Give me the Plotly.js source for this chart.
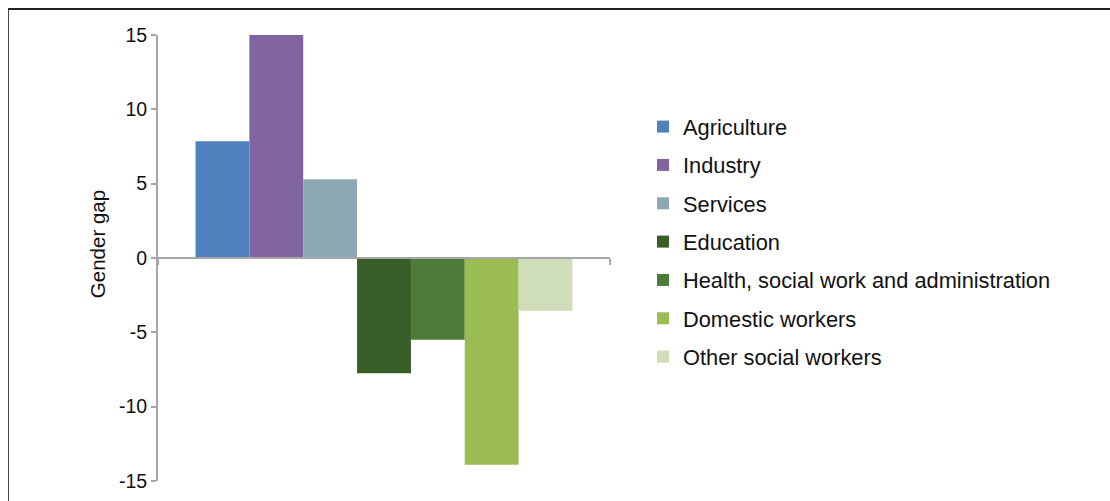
<!DOCTYPE html>
<html>
<head>
<meta charset="utf-8">
<script src="https://cdn.plot.ly/plotly-3.0.1.min.js"></script>
<style>
  html, body { margin: 0; padding: 0; background: #fff; }
  #wrap { position: relative; width: 1110px; height: 501px; overflow: hidden; }
  #frame { position: absolute; left: 8px; top: 8px; width: 1200px; height: 600px;
           border-top: 2px solid #222; border-left: 1px solid #444; pointer-events: none; }
  #chart { position: absolute; left: 0; top: 0; width: 1110px; height: 501px; }
</style>
</head>
<body>
<div id="wrap">
  <div id="chart"></div>
  <div id="frame"></div>
</div>
<script>
const seriesNames = ["Agriculture", "Industry", "Services", "Education",
  "Health, social work and administration", "Domestic workers", "Other social workers"];
const gapValues = [7.85, 15.0, 5.3, -7.75, -5.5, -13.9, -3.55];
const seriesColors = ["#4F81BD", "#8064A2", "#8CA8B3", "#385D27", "#4F7B3A", "#9BBB53", "#CFDDB8"];
const yTicks = [-15, -10, -5, 0, 5, 10, 15];
const yTitle = "Gender gap";
const category = [0];

const traces = seriesNames.map((name, i) => ({
  type: "bar",
  name: name,
  x: category,
  y: [gapValues[i]],
  marker: { color: seriesColors[i], line: { width: 0 } },
  legendgroup: "g" + i,
  hoverinfo: "name+y"
}));

const layout = {
  width: 1110, height: 501,
  margin: { l: 158, r: 500, t: 35, b: 20 },
  paper_bgcolor: "rgba(0,0,0,0)",
  plot_bgcolor: "rgba(0,0,0,0)",
  font: { family: "Liberation Sans, Arial, sans-serif", color: "#111", size: 19.5 },
  barmode: "group",
  bargap: 0.166,
  bargroupgap: 0,
  showlegend: true,
  legend: {
    x: 1.073, xanchor: "left", y: 0.841, yanchor: "top",
    font: { size: 21.8, color: "#111" },
    tracegroupgap: 7,
    itemwidth: 30,
    bgcolor: "rgba(0,0,0,0)"
  },
  xaxis: {
    range: [-0.5, 0.5],
    anchor: "free", position: 0.5,
    showline: true, linecolor: "#A6A6A6", linewidth: 2,
    tickmode: "array", tickvals: [-0.5, 0.5], ticks: "outside", ticklen: 6,
    tickcolor: "#A6A6A6", tickwidth: 2,
    showticklabels: false, showgrid: false, zeroline: false
  },
  yaxis: {
    range: [-15, 15],
    tickmode: "array", tickvals: yTicks, ticktext: yTicks.map(String),
    showline: true, linecolor: "#A6A6A6", linewidth: 2,
    ticks: "outside", ticklen: 5, tickcolor: "#A6A6A6", tickwidth: 2,
    showgrid: false, zeroline: false,
    tickfont: { size: 19.5, color: "#111" }
  },
  annotations: [{
    text: yTitle, textangle: -90,
    xref: "paper", yref: "paper",
    x: -0.135, y: 0.531, xanchor: "center", yanchor: "middle",
    showarrow: false,
    font: { size: 20.5, color: "#111" }
  }]
};

Plotly.newPlot("chart", traces, layout, { displayModeBar: false, staticPlot: true });
</script>
</body>
</html>
